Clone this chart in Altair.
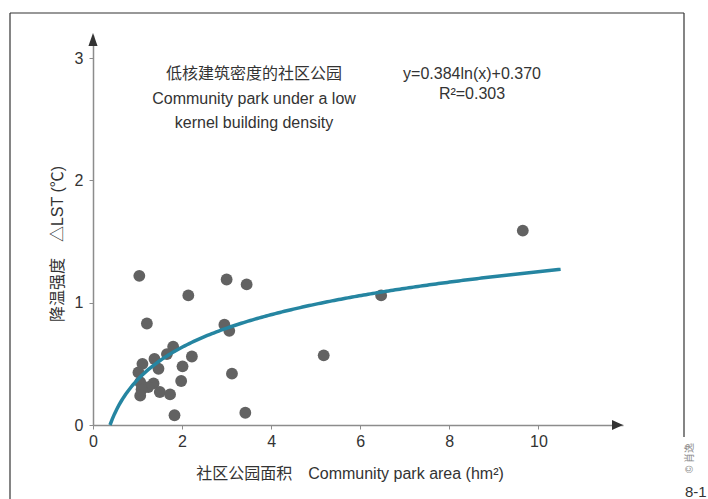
import altair as alt
import numpy as np
import pandas as pd

# Community park area (hm²) and cooling intensity ΔLST (°C)
area = [1.04, 3.00, 3.45, 2.14, 1.21, 2.95, 3.06, 1.80, 1.66, 1.38,
        2.22, 1.11, 1.47, 2.01, 1.02, 3.12, 1.98, 1.36, 1.06, 1.24,
        1.09, 1.06, 1.50, 1.73, 1.83, 3.42, 5.18, 6.47, 9.65]
lst = [1.22, 1.19, 1.15, 1.06, 0.83, 0.82, 0.77, 0.64, 0.58, 0.54,
       0.56, 0.50, 0.46, 0.48, 0.43, 0.42, 0.36, 0.34, 0.35, 0.31,
       0.29, 0.24, 0.27, 0.25, 0.08, 0.10, 0.57, 1.06, 1.59]

# logarithmic fit y = a ln(x) + b
fit_a, fit_b = 0.384, 0.370
fit_x_end = 10.5

x_ticks = [0, 2, 4, 6, 8, 10]
y_ticks = [0, 1, 2, 3]

pts = pd.DataFrame({"area": area, "lst": lst})
cx = np.linspace(np.exp(-fit_b / fit_a), fit_x_end, 200)
curve = pd.DataFrame({"area": cx, "lst": fit_a * np.log(cx) + fit_b})

W, H = 530, 390
FONT = "Liberation Sans, Noto Sans CJK SC, sans-serif"
TXT = "#333333"
AX = "#8c8c8c"
GAP = "\u2003"  # gap between the Chinese and English parts of a title

xs = alt.Scale(domain=[0, 11.9], nice=False, zero=False)
ys = alt.Scale(domain=[0, 3.19], nice=False, zero=False)

x_axis = alt.Axis(values=x_ticks, title=None, grid=False, domainColor=AX,
                  domainWidth=1.5, tickColor=AX, tickSize=4, labelFontSize=16,
                  labelColor=TXT, labelFont=FONT, labelPadding=4,
                  labelFlush=False, format="d")
y_axis = alt.Axis(values=y_ticks, title=None, grid=False, domainColor=AX,
                  domainWidth=1.5, tickColor=AX, tickSize=4, labelFontSize=16,
                  labelColor=TXT, labelFont=FONT, labelPadding=6,
                  labelFlush=False, format="d")

points = alt.Chart(pts).mark_circle(size=140, color="#626262", opacity=1).encode(
    x=alt.X("area:Q", scale=xs, axis=x_axis),
    y=alt.Y("lst:Q", scale=ys, axis=y_axis),
)

fit_line = alt.Chart(curve).mark_line(color="#2585a1", strokeWidth=3.5).encode(
    x=alt.X("area:Q", scale=xs),
    y=alt.Y("lst:Q", scale=ys),
)

one = pd.DataFrame({"k": [0]})


def label(text, x, y, size=16, angle=0, color=TXT, align="center"):
    return alt.Chart(pd.DataFrame({"t": [text]})).mark_text(
        fontSize=size, font=FONT, color=color, align=align,
        baseline="middle", angle=angle,
    ).encode(x=alt.value(x), y=alt.value(y), text="t:N")


def rule(x, x2, y, y2, color="#333333", width=1.2):
    return alt.Chart(one).mark_rule(color=color, strokeWidth=width).encode(
        x=alt.value(x), x2=alt.value(x2), y=alt.value(y), y2=alt.value(y2)
    )


# axis arrow heads
arrow_up = alt.Chart(one).mark_point(
    shape="M0,-1L0.7,1L-0.7,1Z", filled=True, size=169, color="#333333", opacity=1
).encode(x=alt.value(0), y=alt.value(4.5))
arrow_right = alt.Chart(one).mark_point(
    shape="M1,0L-1,-0.9L-1,0.9Z", filled=True, size=121, color="#333333", opacity=1
).encode(x=alt.value(W - 5.5), y=alt.value(H))

# outer frame
frame = [
    rule(-83, 591, -22, -22),
    rule(-83, -83, -22, 470),
    rule(591, 591, -22, 402),
]

texts = [
    label("低核建筑密度的社区公园", 161, 39),
    label("Community park under a low", 161, 64),
    label("kernel building density", 161, 88),
    label("y=0.384ln(x)+0.370", 379, 39),
    label("R²=0.303", 379, 59),
    label("社区公园面积" + GAP + "Community park area (hm²)", 257, 439),
    label("降温强度" + GAP + "△LST (℃)", -35, 209, angle=270),
    label("© 肖逸", 597, 423, size=10, angle=270, color="#888888"),
    label("8-1", 592, 457, size=15, align="left"),
]

chart = alt.layer(points, fit_line, arrow_up, arrow_right, *frame, *texts).properties(
    width=W,
    height=H,
    autosize=alt.AutoSizeParams(type="none"),
    padding={"left": 93, "top": 35, "right": 85, "bottom": 74},
    background="white",
).configure_view(stroke=None)

chart.save("out.html", embed_options={"renderer": "svg", "actions": False})
